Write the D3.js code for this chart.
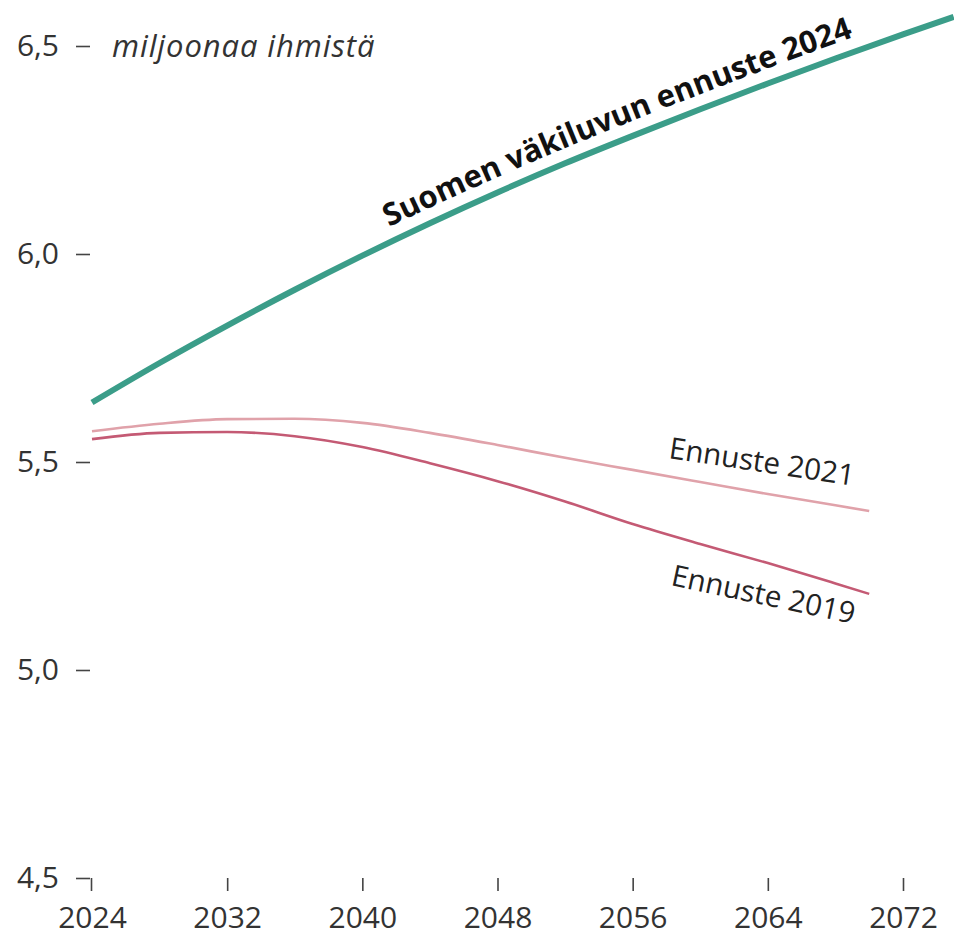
<!DOCTYPE html>
<html><head><meta charset="utf-8">
<script src="https://cdn.jsdelivr.net/npm/d3@7"></script>
<style>
html,body{margin:0;padding:0;background:#fff;}
svg{display:block;font-family:"Open Sans",sans-serif;}
</style></head>
<body><svg id="c" width="954" height="941"></svg>
<script>
// Data (million people)
const years2024 = [2024,2028,2032,2036,2040,2044,2048,2052,2056,2060,2064,2068,2072,2075];
const pop2024   = [5.643,5.738,5.828,5.914,5.996,6.074,6.148,6.218,6.284,6.348,6.410,6.470,6.528,6.570];
const years2021 = [2024,2028,2032,2036,2040,2044,2048,2052,2056,2060,2064,2068,2070];
const pop2021   = [5.574,5.592,5.603,5.604,5.594,5.570,5.541,5.510,5.481,5.452,5.423,5.396,5.382];
const years2019 = [2024,2028,2032,2036,2040,2044,2048,2052,2056,2060,2064,2068,2070];
const pop2019   = [5.555,5.570,5.572,5.562,5.536,5.497,5.454,5.405,5.351,5.303,5.257,5.208,5.183];
const xTicks = [2024,2032,2040,2048,2056,2064,2072];
const yTicks = [4.5,5.0,5.5,6.0,6.5];
const unitLabel = "miljoonaa ihmistä";
const label2024 = "Suomen väkiluvun ennuste 2024";
const label2021 = "Ennuste 2021";
const label2019 = "Ennuste 2019";

const svg = d3.select("#c");
const x = d3.scaleLinear().domain([2024,2072]).range([92,903]);
const y = d3.scaleLinear().domain([4.5,6.5]).range([878,46]);
const fi = d3.formatLocale({decimal:",",thousands:"\u00a0",grouping:[3],currency:["","€"]});
const fmt = fi.format(".1f");

// Y axis
const ya = svg.append("g").attr("transform","translate(90,0)")
  .call(d3.axisLeft(y).tickValues(yTicks).tickFormat(fmt).tickSize(14).tickPadding(17));
ya.select(".domain").remove();
ya.selectAll(".tick line").attr("stroke","#444").attr("stroke-width",1.6);
ya.selectAll(".tick text").attr("fill","#333").style("font-size","30px").style("font-family","Open Sans");

// X axis
const xa = svg.append("g").attr("transform","translate(0,878)")
  .call(d3.axisBottom(x).tickValues(xTicks).tickFormat(d3.format("d")).tickSize(13).tickPadding(16));
xa.select(".domain").remove();
xa.selectAll(".tick line").attr("stroke","#444").attr("stroke-width",1.6);
xa.selectAll(".tick text").attr("fill","#333").style("font-size","30px").style("font-family","Open Sans");
xa.selectAll(".tick").filter(d=>d===2024).select("line").attr("transform","translate(-1,0)");

// unit label
svg.append("text").attr("x",112).attr("y",y(6.5)).attr("dy","0.35em")
  .attr("fill","#333").style("font-size","31px").style("font-style","italic")
  .style("letter-spacing","0.9px")
  .text(unitLabel);

const line = d3.line().curve(d3.curveMonotoneX).x(d=>x(d[0])).y(d=>y(d[1]));

svg.append("path").datum(years2021.map((d,i)=>[d,pop2021[i]]))
  .attr("d",line).attr("fill","none").attr("stroke","#e0a2aa").attr("stroke-width",2.6);
svg.append("path").datum(years2019.map((d,i)=>[d,pop2019[i]]))
  .attr("d",line).attr("fill","none").attr("stroke","#c45a74").attr("stroke-width",2.6);
svg.append("path").attr("id","p2024").datum(years2024.map((d,i)=>[d,pop2024[i]]))
  .attr("d",line).attr("fill","none").attr("stroke","#3b9d89").attr("stroke-width",6);

// label along green line
svg.append("text").attr("dy",-14).attr("fill","#111")
  .style("font-size","31px").style("font-weight","700")
  .append("textPath").attr("href","#p2024").attr("startOffset",344)
  .text(label2024);

// Ennuste labels
svg.append("text").attr("transform",`translate(668,458) rotate(8.5)`)
  .attr("fill","#222").style("font-size","29.5px").text(label2021);
svg.append("text").attr("transform",`translate(670,585) rotate(12)`)
  .attr("fill","#222").style("font-size","29.5px").text(label2019);
</script></body></html>
